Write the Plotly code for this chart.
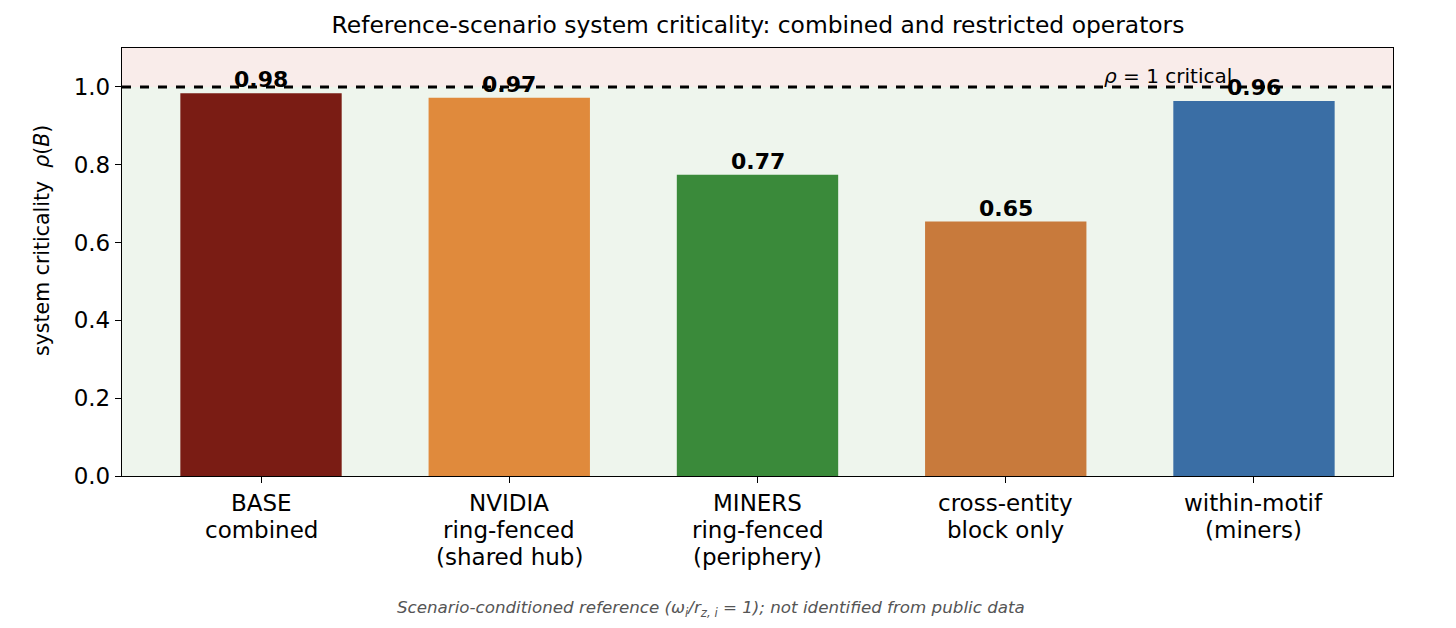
import plotly.graph_objects as go

categories = ["BASE<br>combined", "NVIDIA<br>ring-fenced<br>(shared hub)", "MINERS<br>ring-fenced<br>(periphery)",
              "cross-entity<br>block only", "within-motif<br>(miners)"]
values = [0.984, 0.972, 0.774, 0.654, 0.964]
labels = ["0.98", "0.97", "0.77", "0.65", "0.96"]
colors = ["#7a1c14", "#e08a3c", "#3a8a3a", "#c87a3c", "#3a6ea5"]
critical_level = 1.0
y_max = 1.1

FONT = "DejaVu Sans"
PLOT_H = 428
PLOT_W = 1271

fig = go.Figure()
fig.add_trace(go.Bar(
    x=categories, y=values, marker=dict(color=colors, line=dict(width=0)),
    width=0.65, showlegend=False, hoverinfo="skip",
))

# background bands
fig.add_shape(type="rect", xref="paper", yref="y", x0=0, x1=1, y0=0, y1=critical_level,
              fillcolor="#eef5ed", line=dict(width=0), layer="below")
fig.add_shape(type="rect", xref="paper", yref="y", x0=0, x1=1, y0=critical_level, y1=y_max,
              fillcolor="#f9ecea", line=dict(width=0), layer="below")
# critical line
fig.add_shape(type="line", xref="paper", yref="y", x0=0, x1=1, y0=critical_level, y1=critical_level,
              line=dict(color="black", width=3, dash="dash"), layer="above")

for c, v, t in zip(categories, values, labels):
    fig.add_annotation(x=c, y=v, text=f"<b>{t}</b>", showarrow=False, yanchor="bottom",
                       yshift=-1, font=dict(family=FONT, size=22, color="black"))

# category tick labels, one annotation per line (matplotlib-like line spacing)
for c in categories:
    for k, line in enumerate(c.split("<br>")):
        fig.add_annotation(x=c, xref="x", y=-(27 + 27 * k) / PLOT_H, yref="paper", text=line,
                           showarrow=False, xanchor="center", yanchor="middle",
                           font=dict(family=FONT, size=23, color="black"))

fig.add_annotation(x=3.92, y=critical_level, xref="x", yref="y", text="<i>ρ</i> = 1 critical",
                   showarrow=False, xanchor="right", yanchor="bottom", yshift=-3,
                   font=dict(family=FONT, size=20, color="black"))

fig.add_annotation(x=(711 - 122) / PLOT_W, y=-(608 - 476) / PLOT_H, xref="paper", yref="paper",
                   text="<i>Scenario-conditioned reference (ω<sub>i</sub>/r<sub>z, i</sub> = 1); not identified from public data</i>",
                   showarrow=False, xanchor="center", yanchor="middle",
                   font=dict(family=FONT, size=16.7, color="#555555"))

# y-axis title
fig.add_annotation(x=-(122 - 42) / PLOT_W, y=(476 - 241) / PLOT_H, xref="paper", yref="paper",
                   text="system criticality\u00a0\u00a0<i>ρ</i>(<i>B</i>)", textangle=-90,
                   showarrow=False, xanchor="center", yanchor="middle",
                   font=dict(family=FONT, size=20.5, color="black"))

fig.update_layout(
    width=1448, height=620,
    margin=dict(l=114, r=63, t=40, b=152),
    paper_bgcolor="white", plot_bgcolor="white",
    font=dict(family=FONT, size=23, color="black"),
    title=dict(text="Reference-scenario system criticality: combined and restricted operators",
               x=(758 - 122) / PLOT_W, xanchor="center", xref="paper", y=1 - 17 / 620, yanchor="middle",
               font=dict(family=FONT, size=23.4, color="black")),
)
fig.update_xaxes(range=[-0.56, 4.56], showline=True, linecolor="black", linewidth=1.3, mirror=True,
                 ticks="outside", ticklen=6, tickcolor="black", showgrid=False, showticklabels=False)
fig.update_yaxes(range=[0, y_max], showline=True, linecolor="black", linewidth=1.3, mirror=True,
                 ticks="outside", ticklen=6, tickcolor="black", showgrid=False, zeroline=False,
                 tickvals=[0, 0.2, 0.4, 0.6, 0.8, 1.0], ticktext=["0.0", "0.2", "0.4", "0.6", "0.8", "1.0"],
                 tickfont=dict(family=FONT, size=23, color="black"))

fig.write_html("out.html")
